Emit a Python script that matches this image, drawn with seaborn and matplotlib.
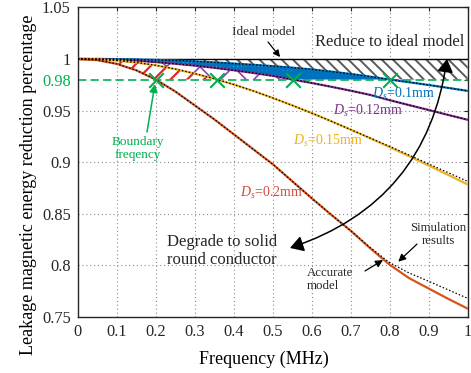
import numpy as np
import pandas as pd
import matplotlib
matplotlib.use("Agg")
import matplotlib.pyplot as plt
import seaborn as sns

# ---------------- data ----------------
freq = [0.00, 0.05, 0.10, 0.15, 0.20, 0.25, 0.30, 0.35, 0.40, 0.45, 0.50,
        0.55, 0.60, 0.65, 0.70, 0.75, 0.80, 0.85, 0.90, 0.95, 1.00]
ideal = [1.0] * 21
ds_010 = [1.0000, 1.0000, 0.9998, 0.9995, 0.9990, 0.9984, 0.9976, 0.9966, 0.9955, 0.9943, 0.9930,
          0.9915, 0.9898, 0.9877, 0.9854, 0.9828, 0.9800, 0.9774, 0.9747, 0.9719, 0.9690]
ds_012 = [1.0000, 0.9997, 0.9991, 0.9982, 0.9969, 0.9953, 0.9935, 0.9914, 0.9890, 0.9864, 0.9836,
          0.9801, 0.9767, 0.9730, 0.9692, 0.9651, 0.9600, 0.9552, 0.9505, 0.9457, 0.9410]
ds_015 = [1.0000, 0.9996, 0.9984, 0.9965, 0.9938, 0.9902, 0.9858, 0.9808, 0.9752, 0.9690, 0.9622,
          0.9550, 0.9475, 0.9396, 0.9315, 0.9231, 0.9145, 0.9057, 0.8967, 0.8876, 0.8783]
ds_020 = [1.0000, 0.9988, 0.9952, 0.9890, 0.9800, 0.9685, 0.9550, 0.9415, 0.9270, 0.9125, 0.8980,
          0.8815, 0.8650, 0.8490, 0.8335, 0.8165, 0.8005, 0.7875, 0.7775, 0.7675, 0.7580]
sim_015 = [1.0000, 0.9996, 0.9984, 0.9965, 0.9938, 0.9902, 0.9858, 0.9808, 0.9752, 0.9690, 0.9622,
           0.9550, 0.9475, 0.9396, 0.9315, 0.9233, 0.9152, 0.9068, 0.8982, 0.8898, 0.8813]
sim_020 = [1.0000, 0.9988, 0.9952, 0.9890, 0.9800, 0.9685, 0.9550, 0.9415, 0.9270, 0.9125, 0.8980,
           0.8815, 0.8650, 0.8490, 0.8335, 0.8172, 0.8025, 0.7925, 0.7845, 0.7762, 0.7680]
boundary_freq = [0.20, 0.356, 0.553, 0.80]
boundary_level = 0.98
xticks = [0, 0.1, 0.2, 0.3, 0.4, 0.5, 0.6, 0.7, 0.8, 0.9, 1.0]
xtick_labels = ["0", "0.1", "0.2", "0.3", "0.4", "0.5", "0.6", "0.7", "0.8", "0.9", "1"]
yticks = [0.75, 0.8, 0.85, 0.9, 0.95, 0.98, 1.0, 1.05]
ytick_labels = ["0.75", "0.8", "0.85", "0.9", "0.95", "0.98", "1", "1.05"]

# ---------------- style ----------------
sns.set_theme(style="white")
plt.rcParams["font.family"] = ["Liberation Serif", "DejaVu Serif"]
plt.rcParams["mathtext.fontset"] = "custom"
plt.rcParams["mathtext.rm"] = "Liberation Serif"
plt.rcParams["mathtext.it"] = "Liberation Serif:italic"
plt.rcParams["hatch.linewidth"] = 1.4

C_BLUE = "#0072BD"
C_PURP = "#7E2F8E"
C_YEL = "#EDB120"
C_RED = "#D95319"
C_GREEN = "#00B050"

fig = plt.figure(figsize=(4.71, 3.73), dpi=100)
ax = fig.add_axes([0.165, 0.1504, 0.828, 0.830])

f = np.array(freq)
b = np.array(ds_010)
p = np.array(ds_012)
y = np.array(ds_015)
r = np.array(ds_020)
idl = np.array(ideal)
lvl = boundary_level

# ---------------- hatched regions ----------------
def band(upper, lower, face, edge, hatch, hlw):
    lo = np.maximum(lower, lvl)
    with plt.rc_context({"hatch.linewidth": hlw}):
        ax.fill_between(f, upper, lo, where=upper >= lo, interpolate=True,
                        facecolor=face, edgecolor=edge, hatch=hatch, linewidth=0, zorder=1)

band(idl, b, "white", "#5a5a5a", "\\\\\\", 1.4)
band(b, p, "white", C_BLUE, "++++", 2.5)
band(p, y, "white", "#8E44AD", "x", 1.2)
band(y, r, "white", "#E02828", "//", 1.6)

# ---------------- curves ----------------
sns.lineplot(x=f, y=idl, ax=ax, color="black", linewidth=1.0, zorder=3)
for vals, col in [(ds_010, C_BLUE), (ds_012, C_PURP), (ds_015, C_YEL), (ds_020, C_RED)]:
    sns.lineplot(x=f, y=np.array(vals), ax=ax, color=col, linewidth=1.6, zorder=3)
for vals in [ds_010, ds_012, sim_015, sim_020]:
    sns.lineplot(x=f, y=np.array(vals), ax=ax, color="black", linewidth=0.9,
                 linestyle=(0, (1.2, 1.6)), zorder=4)

# boundary line + markers
ax.axhline(lvl, color=C_GREEN, linewidth=1.2, linestyle=(0, (5, 2.5)), zorder=2)
sns.scatterplot(x=boundary_freq, y=[lvl] * len(boundary_freq), ax=ax, marker="x",
                s=110, color=C_GREEN, linewidth=1.5, zorder=5)

# ---------------- axes ----------------
ax.set_xlim(0, 1)
ax.set_ylim(0.75, 1.05)
ax.set_xticks(xticks)
ax.set_xticklabels(xtick_labels)
ax.set_yticks(yticks)
ax.set_yticklabels(ytick_labels)
ax.tick_params(direction="in", length=3, width=0.8, top=True, right=True,
               labelsize=11.8, pad=5, colors="#262626", labelcolor="#262626")
for lab, v in zip(ax.get_yticklabels(), yticks):
    if abs(v - lvl) < 1e-9:
        lab.set_color(C_GREEN)
ax.grid(True, linestyle=(0, (1, 2.5)), color="#8c8c8c", linewidth=0.8)
for gl, v in zip(ax.get_ygridlines(), yticks):
    if abs(v - lvl) < 1e-9 or v in (0.75, 1.05):
        gl.set_visible(False)
ax.set_axisbelow(True)
for sp in ax.spines.values():
    sp.set_color("#262626")
    sp.set_linewidth(1.0)

ax.set_xlabel("Frequency (MHz)", fontsize=13, color="black")
ax.set_ylabel("Leakage magnetic energy reduction percentage", fontsize=13, color="black")
ax.xaxis.set_label_coords(0.478, -0.11)
ax.yaxis.set_label_coords(-0.104, 0.427)

# ---------------- annotations ----------------
ax.text(0.7546, 0.9663, r"$D_s$=0.1mm", color=C_BLUE, fontsize=10, ha="left", va="center", zorder=6)
ax.text(0.6546, 0.9495, r"$D_s$=0.12mm", color=C_PURP, fontsize=10, ha="left", va="center", zorder=6)
ax.text(0.5521, 0.9204, r"$D_s$=0.15mm", color=C_YEL, fontsize=10, ha="left", va="center", zorder=6)
ax.text(0.416, 0.870, r"$D_s$=0.2mm", color="#D04A3C", fontsize=10, ha="left", va="center", zorder=6)

ax.text(0.7995, 1.0167, "Reduce to ideal model", fontsize=12, ha="center", va="center", zorder=6)
ax.text(0.229, 0.8139, "Degrade to solid\nround conductor", fontsize=12, ha="left",
        va="center", linespacing=1.1, zorder=6)

ax.annotate("", xy=(0.519, 1.0018), xytext=(0.488, 1.0164),
            arrowprops=dict(arrowstyle="-|>", color="black", lw=0.9, mutation_scale=10,
                            shrinkA=0, shrinkB=0), zorder=6)
ax.text(0.4777, 1.0261, "Ideal model", fontsize=9.5, ha="center", va="center", zorder=6)

ax.annotate("", xy=(0.9469, 1.0000), xytext=(0.5444, 0.8168),
            arrowprops=dict(arrowstyle="<|-|>,head_length=0.5,head_width=0.3", color="black",
                            lw=1.1, mutation_scale=16, shrinkA=0, shrinkB=0,
                            connectionstyle="arc3,rad=0.31"), zorder=6)

ax.text(0.1546, 0.9132, "Boundary\nfreqency", color=C_GREEN, fontsize=9.5, ha="center",
        va="center", linespacing=1.1, zorder=6)
ax.annotate("", xy=(0.198, 0.9757), xytext=(0.1777, 0.9292),
            arrowprops=dict(arrowstyle="-|>", color=C_GREEN, lw=1.1, mutation_scale=12,
                            shrinkA=0, shrinkB=0), zorder=6)

ax.text(0.9238, 0.8298, "Simulation\nresults", fontsize=9.3, ha="center", va="center",
        linespacing=1.1, zorder=6)
ax.annotate("", xy=(0.822, 0.8035), xytext=(0.870, 0.8206),
            arrowprops=dict(arrowstyle="-|>", color="black", lw=0.9, mutation_scale=11,
                            shrinkA=0, shrinkB=0), zorder=6)

ax.text(0.588, 0.7862, "Accurate\nmodel", fontsize=9.3, ha="left", va="center",
        multialignment="left", linespacing=1.1, zorder=6)
ax.annotate("", xy=(0.7828, 0.8051), xytext=(0.7367, 0.7945),
            arrowprops=dict(arrowstyle="-|>", color="black", lw=0.9, mutation_scale=11,
                            shrinkA=0, shrinkB=0), zorder=6)

fig.savefig("out.png", dpi=100)
